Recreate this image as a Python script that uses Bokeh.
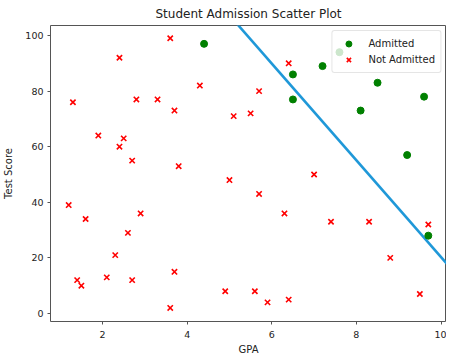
from bokeh.plotting import figure
from bokeh.models import Range1d, Legend, LegendItem
from bokeh.embed import file_html
from bokeh.resources import INLINE
import numpy as np

# Admitted students
adm_gpa = [4.4, 6.5, 7.2, 7.6, 8.5, 6.5, 9.6, 8.1, 9.2, 9.7]
adm_score = [97, 86, 89, 94, 83, 77, 78, 73, 57, 28]

# Not admitted students
rej_gpa = [3.6, 2.4, 1.3, 2.8, 3.3, 3.7, 4.3, 5.1, 5.5, 5.7,
           1.9, 2.5, 2.4, 2.7, 3.8, 6.4, 7.0, 5.7, 6.3, 7.4,
           8.3, 9.7, 8.8, 5.6, 5.9, 6.4, 9.5, 1.2, 1.6, 2.9,
           2.6, 2.3, 1.4, 1.5, 2.1, 2.7, 3.7, 3.6, 4.9, 5.0]
rej_score = [99, 92, 76, 77, 77, 73, 82, 71, 72, 80,
             64, 63, 60, 55, 53, 90, 50, 43, 36, 33,
             33, 32, 20, 8, 4, 5, 7, 39, 34, 36,
             29, 21, 12, 10, 13, 12, 15, 2, 8, 48]

# Decision boundary: score = intercept + slope * gpa
boundary_slope = -17.4
boundary_intercept = 194.3

x_ticks = [2, 4, 6, 8, 10]
y_ticks = [0, 20, 40, 60, 80, 100]

FONT = "DejaVu Sans"
TXT = "#222222"

p = figure(output_backend="svg", toolbar_location=None,
           frame_width=396, frame_height=296,
           min_border_left=44, min_border_right=0, min_border_top=20, min_border_bottom=30,
           x_range=Range1d(0.77, 10.13), y_range=Range1d(-2.88, 103.6),
           title="Student Admission Scatter Plot")

p.title.align = "center"
p.title.text_font = FONT
p.title.text_font_size = "12px"
p.title.text_font_style = "normal"
p.title.text_color = TXT
p.title.standoff = 9
p.title.offset = 0

p.xgrid.visible = False
p.ygrid.visible = False
p.outline_line_color = "#555555"
p.outline_line_width = 1

for ax in (p.xaxis[0], p.yaxis[0]):
    ax.axis_line_color = None
    ax.major_tick_line_color = "#555555"
    ax.major_tick_in = 0
    ax.major_tick_out = 3
    ax.minor_tick_line_color = None
    ax.major_label_text_font = FONT
    ax.major_label_text_font_size = "9.5px"
    ax.major_label_text_color = TXT
    ax.axis_label_text_font = FONT
    ax.axis_label_text_font_size = "10px"
    ax.axis_label_text_font_style = "normal"
    ax.axis_label_text_color = TXT

p.xaxis.ticker = x_ticks
p.yaxis.ticker = y_ticks
p.xaxis.axis_label = "GPA"
p.yaxis.axis_label = "Test Score"
p.xaxis.major_label_standoff = 6
p.xaxis.axis_label_standoff = 3
p.yaxis.major_label_standoff = 4
p.yaxis.axis_label_standoff = 8

xs = np.array([0.0, 12.0])
p.line(xs, boundary_intercept + boundary_slope * xs, line_color="#1f98d8", line_width=2.6)

r_adm = p.scatter(adm_gpa, adm_score, marker="circle", size=7,
                  fill_color="green", line_color="green")
r_rej = p.scatter(rej_gpa, rej_score, marker="x", size=7.5,
                  line_color="red", line_width=1.6)

legend = Legend(items=[LegendItem(label="Admitted", renderers=[r_adm]),
                       LegendItem(label="Not Admitted", renderers=[r_rej])],
                location="top_right")
legend.label_text_font = FONT
legend.label_text_font_size = "10px"
legend.label_text_color = TXT
legend.background_fill_alpha = 0.8
legend.border_line_color = "#cccccc"
legend.border_line_width = 1
legend.border_radius = 3
legend.glyph_width = 22
legend.glyph_height = 15
legend.label_height = 15
legend.spacing = 1
legend.padding = 5
legend.margin = 5
legend.label_standoff = 9
p.add_layout(legend)

open("out.html", "w").write(file_html(p, INLINE))
